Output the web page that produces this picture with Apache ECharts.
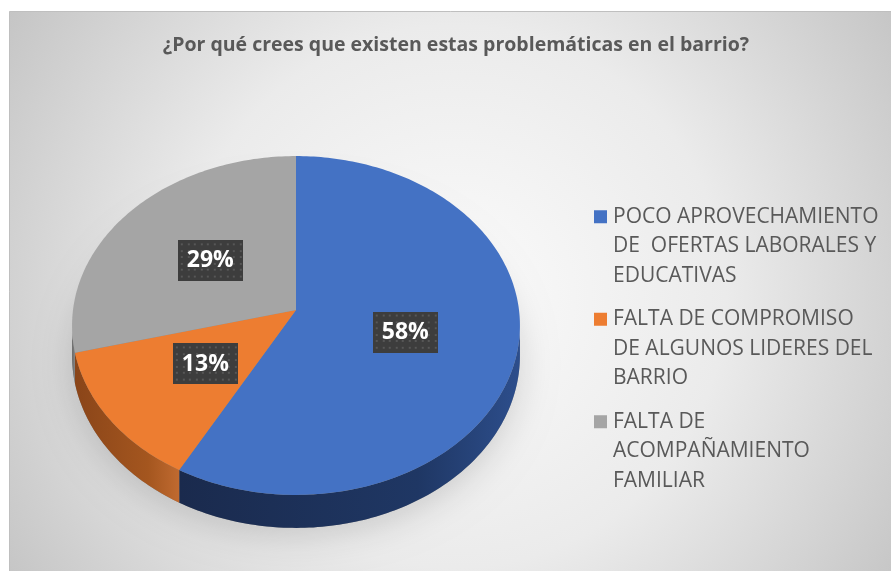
<!DOCTYPE html>
<html>
<head>
<meta charset="utf-8">
<script src="https://cdn.jsdelivr.net/npm/echarts/dist/echarts.min.js"></script>
<style>
html, body { margin: 0; padding: 0; background: #fff; }
#main { width: 891px; height: 571px; }
</style>
</head>
<body>
<div id="main"></div>
<script>
// data
const categories = [
    'POCO APROVECHAMIENTO\nDE  OFERTAS LABORALES Y\nEDUCATIVAS',
    'FALTA DE COMPROMISO\nDE ALGUNOS LIDERES DEL\nBARRIO',
    'FALTA DE\nACOMPAÑAMIENTO\nFAMILIAR'
];
const values = [58, 13, 29];

const colors = ['#4472C4', '#ED7D31', '#A5A5A5'];
const wallColors = [
    ['#2d4e8c', '#1f3764', '#1a2a4d'],
    ['#c06a30', '#a4561f', '#8a4519'],
    ['#8a8a8a', '#7a7a7a', '#6a6a6a']
];

// tilted pie geometry (apex, radii, perspective, thickness)
const CX = 296, CY = 310, RX = 223, RY = 168, PERSP = 0.0914, DEPTH = 33;
const VIS0 = Math.acos(-PERSP), VIS1 = 2 * Math.PI - Math.acos(-PERSP);

function proj(theta, r) {
    const s = Math.sin(theta), c = Math.cos(theta);
    const d = 1 + PERSP * r * c;
    return [CX + RX * r * s / d, CY - RY * r * c / d];
}
function depthAt(theta) {
    return DEPTH * (1 - PERSP) / (1 + PERSP * Math.cos(theta));
}
function rim(a, b) {
    const n = Math.max(2, Math.ceil((b - a) / (Math.PI / 180)));
    const pts = [];
    for (let k = 0; k <= n; k++) {
        pts.push(proj(a + (b - a) * k / n, 1));
    }
    return pts;
}

// dotted dark box used behind the data labels
const dots = document.createElement('canvas');
dots.width = 65; dots.height = 42;
(function () {
    const g = dots.getContext('2d');
    g.fillStyle = '#3d3d3d';
    g.fillRect(0, 0, 65, 42);
    g.fillStyle = '#575757';
    for (let y = 3; y < 42; y += 6.5) {
        for (let x = 3; x < 65; x += 6.5) {
            g.fillRect(Math.round(x), Math.round(y), 2, 2);
        }
    }
})();

const total = values.reduce((a, b) => a + b, 0);

function renderSlice(params, api) {
    const i = params.seriesIndex;
    let start = 0;
    for (let k = 0; k < i; k++) start += values[k];
    const a0 = start / total * 2 * Math.PI;
    const a1 = (start + values[i]) / total * 2 * Math.PI;
    const children = [];

    if (i === 0) {
        const base = rim(0, 2 * Math.PI).map((p, k, arr) => {
            const t = k / (arr.length - 1) * 2 * Math.PI;
            return [p[0], p[1] + depthAt(t)];
        });
        children.push({
            type: 'polygon', z2: -1, silent: true,
            shape: { points: base },
            style: {
                fill: 'rgba(0,0,0,0.3)',
                shadowBlur: 34, shadowColor: 'rgba(0,0,0,0.5)', shadowOffsetY: 8
            }
        });
    }

    const w0 = Math.max(a0, VIS0), w1 = Math.min(a1, VIS1);
    if (w1 > w0) {
        const upper = [];
        const n = Math.max(2, Math.ceil((w1 - w0) / (Math.PI / 180)));
        for (let k = 0; k <= n; k++) upper.push(w0 + (w1 - w0) * k / n);
        const pts = upper.map(t => proj(t, 1));
        const lower = upper.slice().reverse().map(t => {
            const p = proj(t, 1);
            return [p[0], p[1] + depthAt(t)];
        });
        const wc = wallColors[i];
        children.push({
            type: 'polygon', z2: 1,
            shape: { points: pts.concat(lower) },
            style: {
                fill: new echarts.graphic.LinearGradient(1, 0, 0, 0, [
                    { offset: 0, color: wc[0] },
                    { offset: 0.3, color: wc[1] },
                    { offset: 1, color: wc[2] }
                ])
            }
        });
    }

    children.push({
        type: 'polygon', z2: 10,
        shape: { points: [proj(0, 0)].concat(rim(a0, a1)) },
        style: { fill: colors[i] }
    });

    const mid = proj((a0 + a1) / 2, 0.5);
    children.push({
        type: 'text', z2: 20,
        x: mid[0], y: mid[1] + 1,
        style: {
            text: Math.round(values[i] / total * 100) + '%',
            fill: '#ffffff',
            font: 'bold 23px "Open Sans"',
            align: 'center', verticalAlign: 'middle',
            lineHeight: 25,
            padding: [8, 9, 8, 9],
            backgroundColor: { image: dots },
            shadowColor: 'rgba(0,0,0,0.55)', shadowBlur: 5,
            shadowOffsetX: 2, shadowOffsetY: 2
        }
    });

    return { type: 'group', children: children };
}

const chart = echarts.init(document.getElementById('main'));
chart.setOption({
    animation: false,
    graphic: [{
        type: 'rect', z: -10, silent: true,
        shape: { x: 9.5, y: 11.5, width: 890, height: 570 },
        style: {
            fill: new echarts.graphic.RadialGradient(0.5, 0.5, 0.95, [
                { offset: 0, color: '#fbfbfb' },
                { offset: 0.5, color: '#ebebeb' },
                { offset: 1, color: '#c3c3c3' }
            ]),
            stroke: '#bfbfbf', lineWidth: 1
        }
    }],
    title: {
        text: '¿Por qué crees que existen estas problemáticas en el barrio?',
        left: 456, top: 45, padding: 0,
        textAlign: 'center', textVerticalAlign: 'middle',
        textStyle: {
            fontFamily: 'Open Sans', fontWeight: 'bold',
            fontSize: 19.5, color: '#595959'
        }
    },
    legend: {
        orient: 'vertical', left: 594, top: 202, padding: 0,
        itemWidth: 14, itemHeight: 72, itemGap: 14,
        icon: 'path://M0,0L13,0L13,13L0,13Z M14,72',
        selectedMode: false,
        textStyle: {
            fontFamily: 'Open Sans', fontSize: 21,
            color: '#595959', lineHeight: 29.5
        },
        data: categories
    },
    series: categories.map((name, i) => ({
        type: 'custom',
        name: name,
        coordinateSystem: 'none',
        itemStyle: { color: colors[i] },
        renderItem: renderSlice,
        data: [values[i]]
    }))
});
</script>
</body>
</html>
